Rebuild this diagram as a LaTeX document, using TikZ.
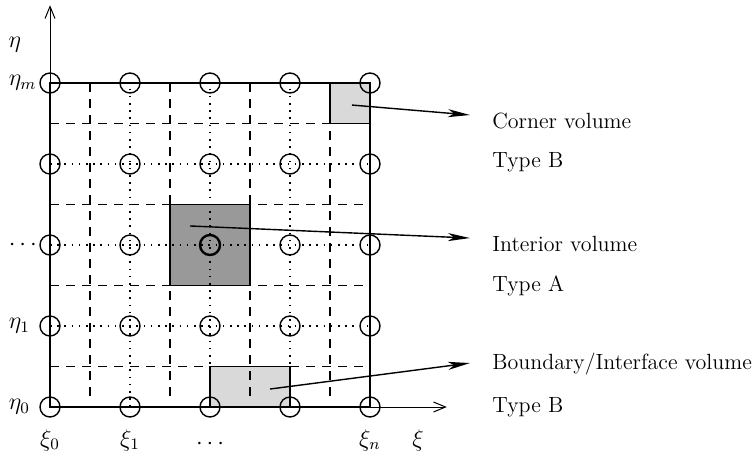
\documentclass[tikz,border=0pt]{standalone}
\usetikzlibrary{arrows.meta}

\begin{document}
\begin{tikzpicture}[x=40pt,y=40.5pt,
  gridpt/.style={circle,draw,line width=.7pt,minimum size=10pt,inner sep=0pt},
  cellline/.style={line width=.6pt,dash pattern=on 4.5pt off 3.5pt},
  linkline/.style={line width=.7pt,dash pattern=on .8pt off 2.8pt},
  volbox/.style={draw,line width=.8pt},
  callout/.style={line width=.7pt,-{Stealth[length=11pt,width=4pt,inset=3pt]}},
  axisline/.style={line width=.5pt,-{Straight Barb[length=6pt,width=5pt]}},
  lbl/.style={anchor=base west,inner sep=0pt,font=\fontsize{11}{13}\selectfont},
  mlbl/.style={inner sep=0pt,font=\fontsize{12}{14}\selectfont}]
\path[use as bounding box] (-0.625,-0.667) rectangle (8.825,5.025);
\fill[black!15] (3.5,3.5) rectangle (4,4);
\fill[black!40] (1.5,1.5) rectangle (2.5,2.5);
\fill[black!15] (2,0) rectangle (3,0.5);
\draw[cellline] (0,3.5)--(3.92,3.5);
\draw[cellline] (0,2.5)--(3.92,2.5);
\draw[cellline] (0,1.5)--(3.92,1.5);
\draw[cellline] (0,0.5)--(3.92,0.5);
\draw[cellline] (0.5,4)--(0.5,0.09);
\draw[cellline] (1.5,4)--(1.5,0.09);
\draw[cellline] (2.5,4)--(2.5,0.09);
\draw[cellline] (3.5,4)--(3.5,0.09);
\node[gridpt] (g00) at (0,0) {};
\node[gridpt] (g10) at (1,0) {};
\node[gridpt] (g20) at (2,0) {};
\node[gridpt] (g30) at (3,0) {};
\node[gridpt] (g40) at (4,0) {};
\node[gridpt] (g01) at (0,1) {};
\node[gridpt] (g11) at (1,1) {};
\node[gridpt] (g21) at (2,1) {};
\node[gridpt] (g31) at (3,1) {};
\node[gridpt] (g41) at (4,1) {};
\node[gridpt] (g02) at (0,2) {};
\node[gridpt] (g12) at (1,2) {};
\node[gridpt,line width=1.2pt] (g22) at (2,2) {};
\node[gridpt] (g32) at (3,2) {};
\node[gridpt] (g42) at (4,2) {};
\node[gridpt] (g03) at (0,3) {};
\node[gridpt] (g13) at (1,3) {};
\node[gridpt] (g23) at (2,3) {};
\node[gridpt] (g33) at (3,3) {};
\node[gridpt] (g43) at (4,3) {};
\node[gridpt] (g04) at (0,4) {};
\node[gridpt] (g14) at (1,4) {};
\node[gridpt] (g24) at (2,4) {};
\node[gridpt] (g34) at (3,4) {};
\node[gridpt] (g44) at (4,4) {};
\draw[linkline] (g01.center)--(g41.center);
\draw[linkline] (g02.center)--(g42.center);
\draw[linkline] (g03.center)--(g43.center);
\draw[linkline] (g10.center)--(g14.center);
\draw[linkline] (g20.center)--(g24.center);
\draw[linkline] (g30.center)--(g34.center);
\draw[volbox] (3.5,3.5) rectangle (4,4);
\draw[volbox] (1.5,1.5) rectangle (2.5,2.5);
\draw[volbox] (2,0) rectangle (3,0.5);
\draw[line width=1.2pt] (g00.center)--(g40.center)--(g44.center)--(g04.center)--cycle;
\coordinate (etatip) at (0,4.96);
\coordinate (xitip) at (4.96,0);
\draw[axisline] (g00.center)--(etatip);
\draw[axisline] (g00.center)--(xitip);
\node[mlbl] (eta) at (-0.44,4.47) {$\eta$};
\node[mlbl,anchor=west] (etam) at (-0.52,4) {$\eta_m$};
\node[mlbl,anchor=west] (etadots) at (-0.52,2) {$\cdots$};
\node[mlbl,anchor=west] (eta1) at (-0.52,1) {$\eta_1$};
\node[mlbl,anchor=west] (eta0) at (-0.52,0) {$\eta_0$};
\node[mlbl] (xi0) at (0,-0.41) {$\xi_0$};
\node[mlbl] (xi1) at (1,-0.41) {$\xi_1$};
\node[mlbl] (xidots) at (2,-0.46) {$\cdots$};
\node[mlbl] (xin) at (4,-0.41) {$\xi_n$};
\node[mlbl] (xi) at (4.6,-0.41) {$\xi$};
\node[lbl] (corner) at (5.525,3.444) {Corner volume};
\node[lbl] (cornertype) at (5.525,2.951) {Type B};
\node[lbl] (interior) at (5.525,1.926) {Interior volume};
\node[lbl] (interiortype) at (5.525,1.432) {Type A};
\node[lbl] (boundary) at (5.525,0.457) {Boundary/Interface volume};
\node[lbl] (boundarytype) at (5.525,-0.062) {Type B};
\coordinate (cornerin) at (3.775,3.728);
\coordinate (cornerend) at (5.25,3.605);
\coordinate (interiorin) at (1.75,2.235);
\coordinate (interiorend) at (5.25,2.086);
\coordinate (boundaryin) at (2.75,0.222);
\coordinate (boundaryend) at (5.25,0.543);
\draw[callout] (cornerin)--(cornerend);
\draw[callout] (interiorin)--(interiorend);
\draw[callout] (boundaryin)--(boundaryend);
\end{tikzpicture}
\end{document}
